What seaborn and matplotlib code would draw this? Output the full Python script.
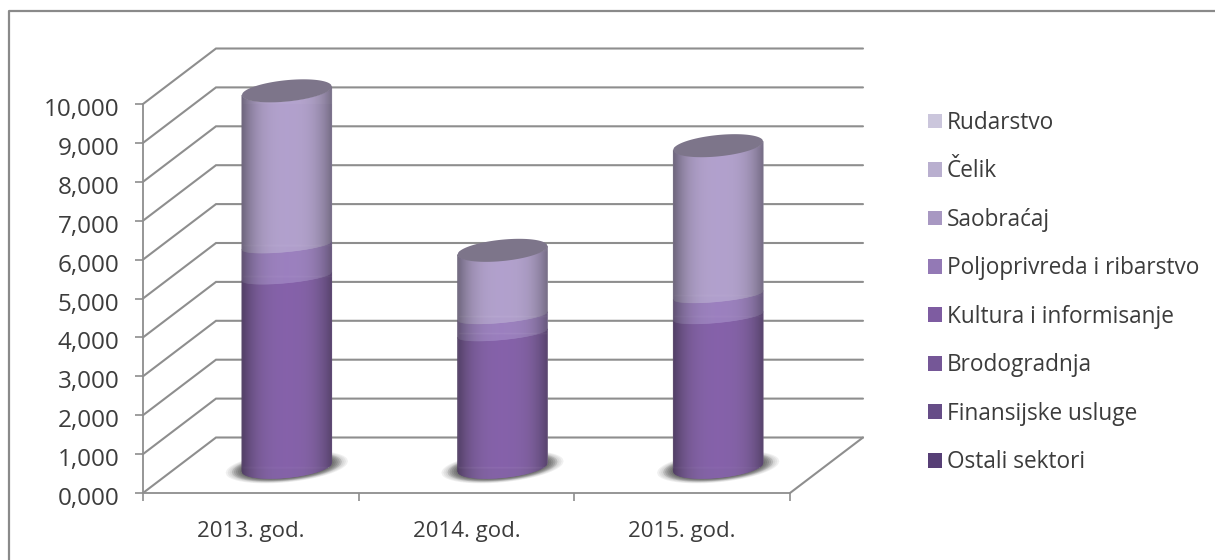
import numpy as np
import pandas as pd
import matplotlib
matplotlib.use("Agg")
import matplotlib.pyplot as plt
import seaborn as sns
from matplotlib.collections import PolyCollection
from matplotlib.patches import Patch, Polygon
from matplotlib.path import Path
from matplotlib.transforms import IdentityTransform, Affine2D

years = ["2013. god.", "2014. god.", "2015. god."]
series_names = ["Ostali sektori", "Finansijske usluge", "Brodogradnja", "Kultura i informisanje",
                "Poljoprivreda i ribarstvo", "Saobraćaj", "Čelik", "Rudarstvo"]
series_colors = ["#573F76", "#664D87", "#755797", "#7E5CA1", "#9379B5", "#A898C2", "#B9AFCF", "#CBC6DC"]
ostali = [0, 0, 0]
finansije = [0, 0, 0]
brodogradnja = [0, 0, 0]
kultura = [4.9, 3.44, 3.88]
poljoprivreda = [0.8, 0.44, 0.54]
saobracaj = [3.97, 1.69, 3.84]
celik = [0, 0, 0]
rudarstvo = [0, 0, 0]
series_values = [ostali, finansije, brodogradnja, kultura, poljoprivreda, saobracaj, celik, rudarstvo]
y_ticks = list(range(11))

W, H = 1215, 560
sns.set_theme(style="white")
plt.rcParams["font.family"] = ["Open Sans", "DejaVu Sans"]
plt.rcParams["text.color"] = "#3c3c3c"
GRID = "#8e8e8e"

fig = plt.figure(figsize=(W / 100, H / 100), dpi=100, facecolor="white")
ax = fig.add_axes([143 / W, (H - 493) / H, (790 - 143) / W, (493 - 104) / H])
ax.patch.set_alpha(0)

# stacked bars through seaborn
bottom = np.zeros(3)
for name, vals, col in zip(series_names, series_values, series_colors):
    df = pd.DataFrame({"year": years, "value": vals})
    sns.barplot(data=df, x="year", y="value", order=years, color=col, width=0.417,
                bottom=bottom, saturation=1, ax=ax, zorder=4)
    bottom = bottom + np.asarray(vals, float)
ax.set_xlim(-0.5, 2.5)
ax.set_ylim(0, 10)
ax.set_xlabel("")
ax.set_ylabel("")

# axes styling
for s in ("top", "right"):
    ax.spines[s].set_visible(False)
for s in ("left", "bottom"):
    ax.spines[s].set_color(GRID)
    ax.spines[s].set_linewidth(1.3)
ax.set_yticks(y_ticks)
ax.set_yticklabels([f"{v},000" for v in y_ticks], fontsize=17.5, color="#3c3c3c")
ax.set_xticks([-0.5, 0.5, 1.5, 2.5], minor=True)
ax.set_xticks([0, 1, 2])
ax.set_xticklabels(years, fontsize=16, color="#3c3c3c")
ax.tick_params(axis="y", left=True, length=6, width=1.2, color=GRID, pad=11)
ax.tick_params(axis="x", which="major", bottom=False, pad=14)
ax.tick_params(axis="x", which="minor", bottom=True, length=6, width=1.2, color=GRID)
for lab in ax.get_yticklabels():
    lab.set_transform(lab.get_transform() + Affine2D().translate(0, -3))

# receding floor and back-wall lines
to_px = ax.transData.transform
BACK = np.array([73, 55.5])
MID = np.array([36, 26.0])
idt = IdentityTransform()
wall_right = to_px((2.5, 0))[0] + BACK[0]
for v in y_ticks:
    p = to_px((-0.5, v))
    ax.plot([p[0], p[0] + BACK[0], wall_right], [p[1], p[1] + BACK[1], p[1] + BACK[1]],
            color=GRID, lw=1.5, transform=idt, zorder=1, clip_on=False, solid_joinstyle="miter")
p = to_px((2.5, 0))
ax.plot([p[0], p[0] + BACK[0]], [p[1], p[1] + BACK[1]], color=GRID, lw=1.5,
        transform=idt, zorder=1, clip_on=False)

# cylinders: curved face over each seaborn bar
SLOPE, SEMI, SAG = 0.095, 10.7, 6.5

def shade(x):
    return 1.06 - 0.40 * np.abs(x) ** 3.0

def tint(c, f, grey=0.0):
    rgb = np.array(matplotlib.colors.to_rgb(c))
    rgb = rgb * (1 - grey) + rgb.mean() * grey
    return tuple(np.minimum(1, rgb * f))

bars = [b for cont in ax.containers for b in cont]
n = len(years)
tops = bottom.copy()
for i in range(n):
    c0 = to_px((i, 0)) + MID
    half = to_px((i + 0.417 / 2, 0))[0] - to_px((i, 0))[0]
    tt = np.linspace(-1, 1, 121)
    arc = SEMI * np.sqrt(1 - tt ** 2)
    shear = SLOPE * half * tt
    # base shadow
    for k, a in zip(np.linspace(1.36, 1.0, 9), [0.07] * 3 + [0.17] * 6):
        sx = c0[0] + half * k * tt
        pts = np.r_[np.c_[sx, c0[1] + shear * k + arc * k * 1.05],
                    np.c_[sx[::-1], (c0[1] + shear * k - arc * k * 1.05)[::-1]]]
        ax.add_patch(Polygon(pts, closed=True, transform=idt, fc="#333333", ec="none",
                             alpha=a, zorder=2, clip_on=False))
    top_y = to_px((i, tops[i]))[1] + MID[1]
    sil = np.r_[np.c_[c0[0] + half * tt, c0[1] + shear - arc],
                np.c_[(c0[0] + half * tt)[::-1], (top_y + shear + arc)[::-1]]]
    clip = Path(sil)
    edges = np.linspace(-1, 1, int(round(2 * half)) + 1)
    lo = 0.0
    top_col = None
    for j, (vals, col) in enumerate(zip(series_values, series_colors)):
        v = vals[i]
        bar = bars[j * n + i]
        bar.set_transform(ax.transData + Affine2D().translate(*MID))
        bar.set_clip_path(clip, idt)
        bar.set_clip_on(True)
        if v <= 0:
            continue
        y0 = to_px((i, lo))[1] + MID[1]
        y1 = to_px((i, lo + v))[1] + MID[1]
        sag0 = SEMI if lo == 0 else SAG
        sag1 = SEMI if abs(lo + v - tops[i]) < 1e-9 else SAG
        polys, cols = [], []
        edge_y = lambda u, y, s: y + SLOPE * half * u - s * np.sqrt(max(0, 1 - u ** 2))
        for a, b in zip(edges[:-1], edges[1:]):
            xa, xb = c0[0] + half * a, c0[0] + half * b
            polys.append([(xa, edge_y(a, y0, sag0)), (xb, edge_y(b, y0, sag0)),
                          (xb, edge_y(b, y1, sag1)), (xa, edge_y(a, y1, sag1))])
            cols.append(tint(col, shade((a + b) / 2 - 0.03), grey=0.15 * abs((a + b) / 2)))
        ax.add_collection(PolyCollection(polys, facecolors=cols, edgecolors=cols, linewidths=0.4,
                                         transform=idt, zorder=5 + j * 0.01, clip_on=False),
                          autolim=False)
        lo += v
        top_col = col
    # top cap
    cap = np.r_[np.c_[c0[0] + half * tt, top_y + shear - arc],
                np.c_[(c0[0] + half * tt)[::-1], (top_y + shear + arc)[::-1]]]
    ax.add_patch(Polygon(cap, closed=True, transform=idt, fc=tint(top_col, 0.74, grey=0.35), ec="none",
                         zorder=6, clip_on=False))

# legend (reference lists top of the stack first)
handles = [Patch(fc=c, ec="none") for c in series_colors[::-1]]
leg = fig.legend(handles, series_names[::-1], loc="upper left", bbox_to_anchor=(928 / W, (H - 111) / H),
                 frameon=False, fontsize=16.3, labelspacing=1.08, handlelength=0.62, handleheight=0.62,
                 handletextpad=0.22, borderpad=0, borderaxespad=0, labelcolor="#3c3c3c")

# chart frame (top and left edges visible in the reference)
fig.add_artist(plt.Line2D([9 / W, 9 / W, 1.0], [0.0, (H - 11) / H, (H - 11) / H],
                          color="#8a8a8a", lw=1.6, transform=fig.transFigure))

fig.savefig("out.png", dpi=100, facecolor="white")
